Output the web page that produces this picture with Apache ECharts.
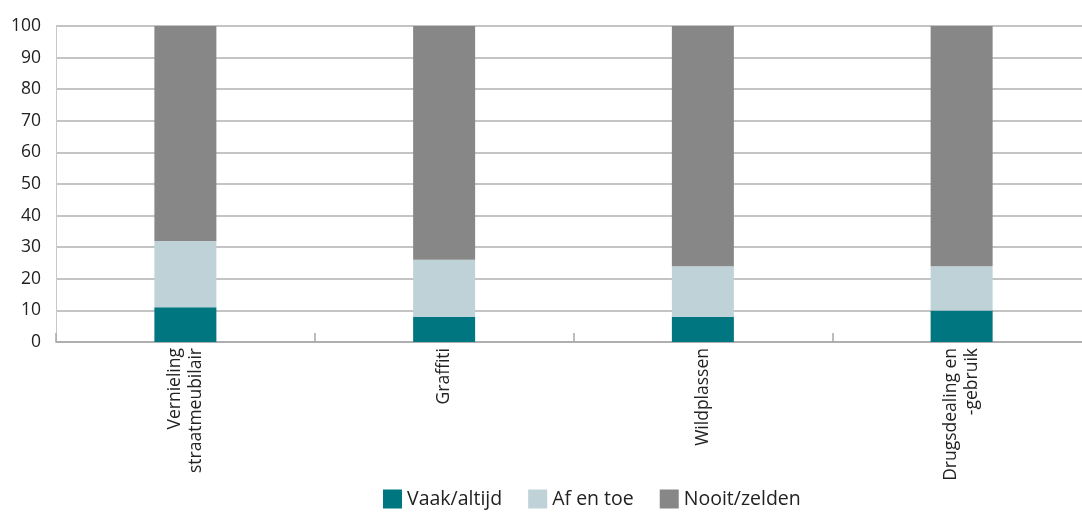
<!DOCTYPE html>
<html>
<head>
<meta charset="utf-8">
<script src="https://cdn.jsdelivr.net/npm/echarts@6/dist/echarts.min.js"></script>
<style>
  html, body { margin: 0; padding: 0; background: #fff; }
  #chart { width: 1082px; height: 515px; }
</style>
</head>
<body>
<div id="chart"></div>
<script>
var categories = ["Vernieling\nstraatmeubilair", "Graffiti", "Wildplassen", "Drugsdealing en\n-gebruik"];
var vaak = [11, 8, 8, 10];
var afEnToe = [21, 18, 16, 14];
var nooit = [68, 74, 76, 76];

var myChart = echarts.init(document.getElementById("chart"));
var font = "'Open Sans', 'Noto Sans', sans-serif";

var option = {
  animation: false,
  textStyle: { fontFamily: font },
  legend: {
    bottom: 1,
    left: 378,
    itemWidth: 19,
    itemHeight: 19,
    itemGap: 26,
    icon: "rect",
    textStyle: { fontSize: 19.5, color: "#222", fontFamily: font },
    data: ["Vaak/altijd", "Af en toe", "Nooit/zelden"]
  },
  // grid runs past the right edge like the original
  grid: { left: 56, right: -9, top: 26, bottom: 173, outerBoundsMode: "none", containLabel: false },
  xAxis: {
    type: "category",
    data: categories,
    axisLine: { lineStyle: { color: "#a8a8a8", width: 1.5 } },
    axisTick: { show: true, inside: true, length: 9, lineStyle: { color: "#a8a8a8", width: 1.5 } },
    axisLabel: { rotate: 90, fontSize: 17.5, color: "#222", margin: 6, lineHeight: 21, fontFamily: font }
  },
  yAxis: {
    type: "value",
    min: 0,
    max: 100,
    interval: 10,
    axisLine: { show: true, lineStyle: { color: "#c8c8c8", width: 1 } },
    axisTick: { show: false },
    axisLabel: { fontSize: 17.5, color: "#222", margin: 15, fontFamily: font },
    splitLine: { lineStyle: { color: "#b0b0b0", width: 1.5 } }
  },
  series: [
    { name: "Vaak/altijd", type: "bar", stack: "t", barWidth: 62, data: vaak, itemStyle: { color: "#007681" } },
    { name: "Af en toe", type: "bar", stack: "t", data: afEnToe, itemStyle: { color: "#bed2d8" } },
    { name: "Nooit/zelden", type: "bar", stack: "t", data: nooit, itemStyle: { color: "#878787" } }
  ]
};

myChart.setOption(option);
window.addEventListener("resize", function () {
  myChart.resize();
});
</script>
</body>
</html>
